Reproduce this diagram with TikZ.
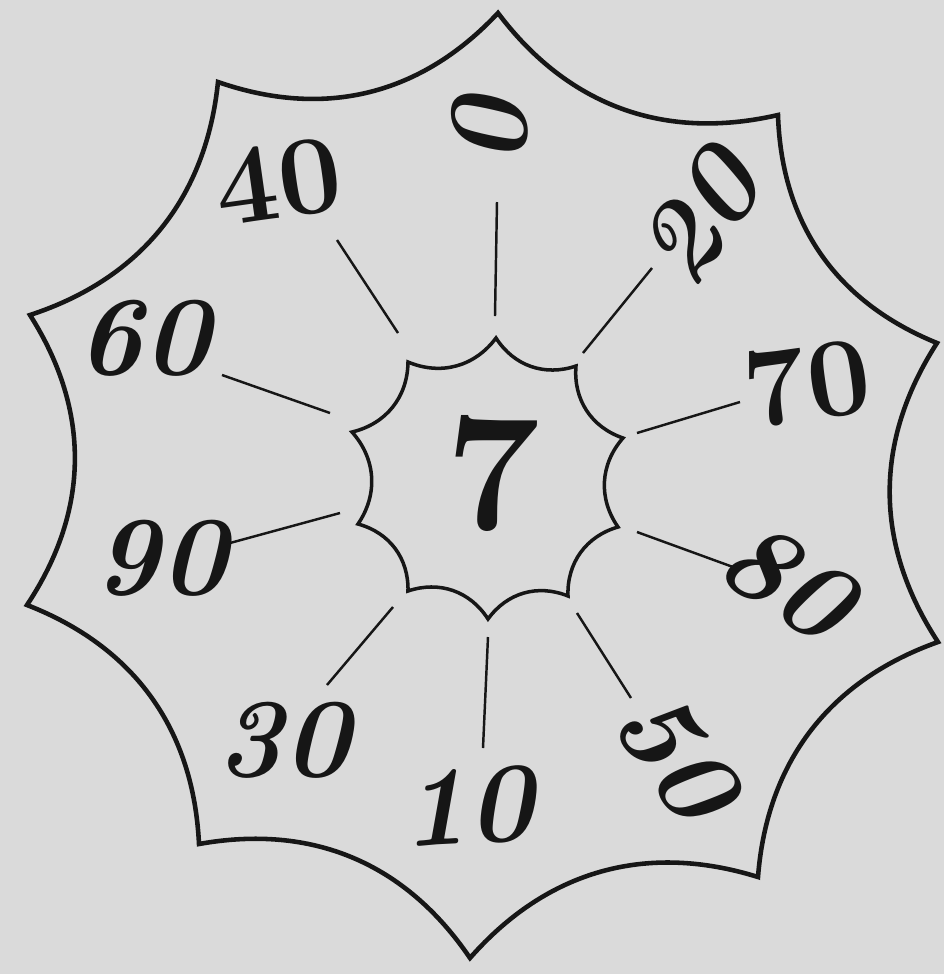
\documentclass[tikz,border=0pt]{standalone}
\usepackage{tikz}
\usetikzlibrary{calc}
\definecolor{paper}{HTML}{DADADA}
\definecolor{ink}{HTML}{161616}
\tikzset{
  rim/.style={draw=ink,line width=1.3pt,line join=miter,miter limit=20},
  hub/.style={draw=ink,line width=1pt,line join=miter,miter limit=20},
  spoke/.style={draw=ink,line width=0.7pt},
  numi/.style={font=\fontsize{32}{34}\selectfont\bfseries\itshape,text=ink,inner sep=0pt},
  numr/.style={font=\fontsize{32}{34}\selectfont\bfseries,text=ink,inner sep=0pt},
  big/.style={font=\fontsize{48}{52}\selectfont\bfseries,text=ink,inner sep=0pt},
}
\begin{document}
\begin{tikzpicture}[x=0.1mm,y=-0.1mm]
\fill[paper] (0,0) rectangle (944,974);
\useasboundingbox (0,0) rectangle (944,974);
% cusps of the outer rim and of the hub, clockwise from the top
\foreach \n/\ax/\ay/\bx/\by in {1/498/13/496/338, 2/778/115/576/366, 3/937/343/623/438, 4/938/642/618/527, 5/758/877/568/596,
  6/470/958/488/619, 7/199/844/408/591, 8/27/605/358/524, 9/30/315/352/432, 10/218/82/408/362}
{
  \coordinate (o\n) at (\ax,\ay);
  \coordinate (h\n) at (\bx,\by);
}
\draw[rim] (o1) to[bend right=33] (o2) to[bend right=33] (o3) to[bend right=33] (o4) to[bend right=33] (o5)
  to[bend right=33] (o6) to[bend right=33] (o7) to[bend right=33] (o8) to[bend right=33] (o9)
  to[bend right=33] (o10) to[bend right=33] cycle;
\draw[hub] (h1) to[bend right=38] (h2) to[bend right=38] (h3) to[bend right=38] (h4) to[bend right=38] (h5)
  to[bend right=38] (h6) to[bend right=38] (h7) to[bend right=38] (h8) to[bend right=38] (h9)
  to[bend right=38] (h10) to[bend right=38] cycle;
\node[big] (c) at (493,473) {7};
% numbers round the hub, each with its spoke
\foreach \t/\s/\r/\lx/\ly/\ax/\ay/\bx/\by in {0/numi/92/490/132/495/316/497/202, 20/numi/55/700/217/583/353/652/268,
  70/numr/8/807/383/637/433/740/402, 80/numi/-33/787/580/637/532/733/567, 50/numi/-55/676/755/577/613/631/698,
  10/numi/4/467/807/488/637/483/748, 30/numi/0/283/740/393/607/327/685, 90/numi/0/160/558/340/513/230/543,
  60/numi/0/143/338/330/413/222/375, 40/numr/8/278/182/398/333/337/240}
{
  \node[\s,rotate=\r] (n\t) at (\lx,\ly) {\t};
  \coordinate (s\t) at (\ax,\ay);
  \coordinate (e\t) at (\bx,\by);
  \draw[spoke] (s\t) -- (e\t);
}
\end{tikzpicture}
\end{document}
